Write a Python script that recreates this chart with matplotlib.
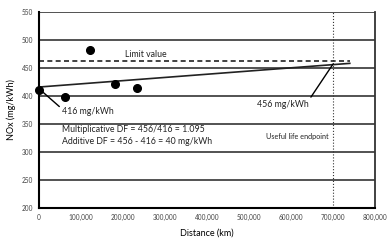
import matplotlib
matplotlib.use("Agg")
import matplotlib.pyplot as plt

# Data
distance_km = [0, 62000, 121000, 182000, 234000]
nox_values = [410, 398, 483, 421, 415]
trend_x = [0, 740000]
trend_y = [416, 458.3]
limit_value = 462
limit_x = [0, 740000]
useful_life_km = 700000
y_ticks = [200, 250, 300, 350, 400, 450, 500, 550]
x_ticks = [0, 100000, 200000, 300000, 400000, 500000, 600000, 700000, 800000]
x_tick_labels = ["0", "100,000", "200,000", "300,000", "400,000", "500,000",
                 "600,000", "700,000", "800,000"]

plt.rcParams['font.family'] = ['Lato', 'DejaVu Sans']

fig = plt.figure(figsize=(3.88, 2.40), dpi=100)
ax = fig.add_axes([39/388, 1 - 208/240, (375-39)/388, (208-12)/240])

ax.set_xlim(0, 800000)
ax.set_ylim(200, 550)
ax.set_yticks(y_ticks)
ax.set_xticks(x_ticks)
ax.set_xticklabels(x_tick_labels)
ax.tick_params(axis='both', labelsize=4.7, colors='#444444', length=0, pad=4)
ax.grid(axis='y', color='#444444', linewidth=1.3)
ax.set_axisbelow(True)
ax.spines['top'].set_visible(False)
ax.spines['left'].set_linewidth(1.5)
ax.spines['bottom'].set_linewidth(1.5)
ax.spines['right'].set_linewidth(1.3)
ax.spines['right'].set_color('#333333')

ax.axvline(useful_life_km, color='#333333', linestyle=':', linewidth=0.8)
ax.plot(limit_x, [limit_value, limit_value], color='#222222', linestyle='--',
        linewidth=1.2, dashes=(3, 2))
ax.plot(trend_x, trend_y, color='#222222', linewidth=1.2)
ax.plot(distance_km, nox_values, 'o', color='black', markersize=5.5, clip_on=False, zorder=5)

ax.annotate("416 mg/kWh", xy=(0, 413), xytext=(55000, 372),
            fontsize=6.3, va='center', ha='left', color='#222222',
            arrowprops=dict(arrowstyle='-', color='black', lw=1.0, shrinkA=0, shrinkB=0,
                            relpos=(0, 0.8)))
ax.annotate("456 mg/kWh", xy=(700000, 457), xytext=(643000, 385),
            fontsize=6.3, va='center', ha='right', color='#222222',
            arrowprops=dict(arrowstyle='-', color='black', lw=1.0, shrinkA=0, shrinkB=0,
                            relpos=(1, 1)))
ax.text(205000, 474, "Limit value", fontsize=6.3, va='center', color='#222222')
ax.text(55000, 340, "Multiplicative DF = 456/416 = 1.095", fontsize=6.3,
        va='center', color='#222222')
ax.text(55000, 319, "Additive DF = 456 - 416 = 40 mg/kWh", fontsize=6.3,
        va='center', color='#222222')
ax.text(690000, 327, "Useful life endpoint", fontsize=5.2, ha='right',
        va='center', color='#222222')

ax.set_xlabel("Distance (km)", fontsize=6.5, labelpad=6)
ax.set_ylabel("NOx (mg/kWh)", fontsize=6.5, labelpad=4)

fig.savefig("out.png", dpi=100)
